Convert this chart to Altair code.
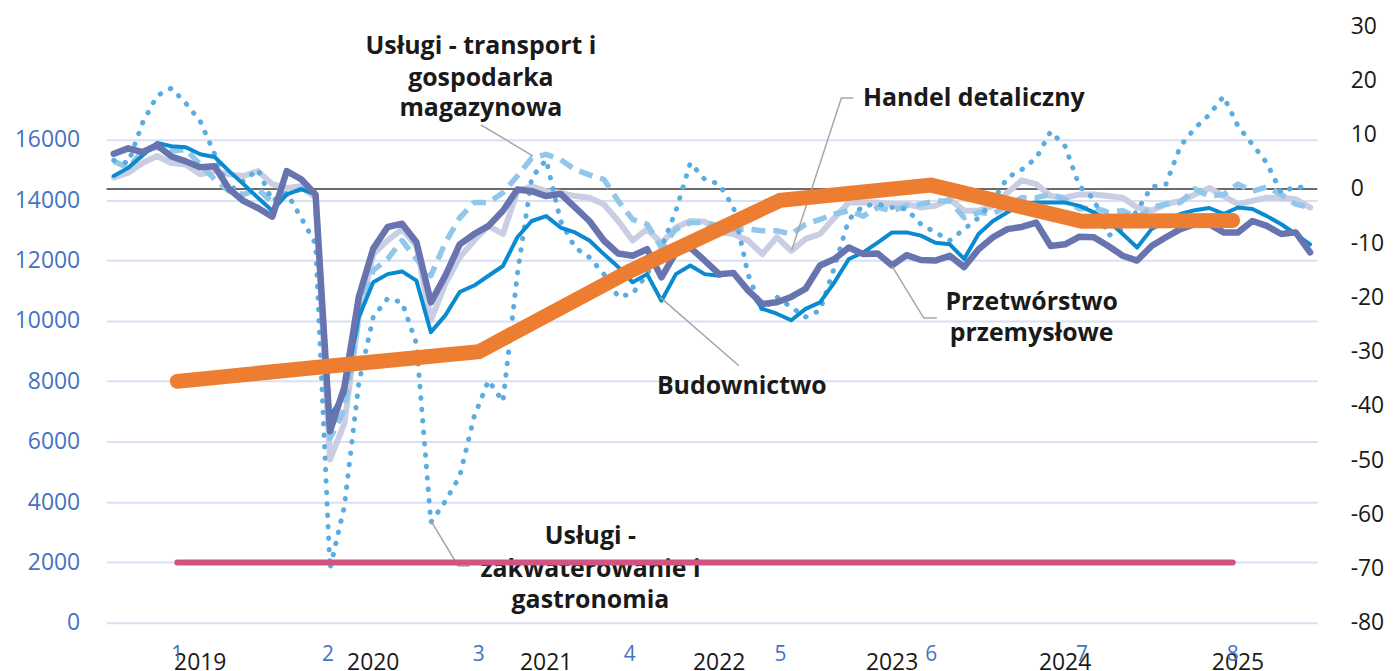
import altair as alt
import pandas as pd

# ---------------- data (right axis, monthly, 84 points) ----------------
przetworstwo = [6.5, 7.5, 6.8, 8.1, 6.0, 5.1, 4.0, 4.2, 0.0, -2.2, -3.5, -5.1, 3.3, 1.8,
                -1.0, -44.7, -36.5, -19.9, -11.0, -7.0, -6.4, -9.8, -20.9, -16.0, -10.2, -8.3, -6.8, -4.0, -0.1,
                -0.4, -1.3, -0.9, -3.4, -5.9, -9.5, -11.9, -12.3, -11.1, -16.3, -11.7, -10.8, -13.2,
                -15.7, -15.5, -18.7, -21.2, -20.9, -19.9, -18.4, -14.1, -12.9, -10.8, -12.0, -11.9, -14.1, -12.2,
                -13.1, -13.2, -12.3, -14.4, -11.1, -8.9, -7.4, -7.0, -6.2, -10.5, -10.2, -8.8, -8.9,
                -10.5, -12.3, -13.2, -10.5, -8.9, -7.4, -6.5, -6.5, -8.0, -8.0, -5.9, -6.8, -8.3, -8.0, -11.7]
budownictwo = [2.4, 3.9, 6.2, 8.5, 7.9, 7.7, 6.4, 5.9, 3.3, 0.9, -1.6, -4.0, -1.0, 0.0,
               -1.0, -42.0, -37.7, -23.6, -17.2, -15.7, -15.2, -16.9, -26.4, -23.3, -19.0, -17.8, -16.0, -14.2, -8.9,
               -5.9, -5.0, -7.1, -8.0, -9.5, -12.0, -14.4, -17.2, -15.7, -20.6, -15.7, -14.1, -15.7,
               -16.0, -15.4, -18.4, -22.1, -23.0, -24.2, -22.1, -20.9, -17.2, -12.9, -11.7, -9.9, -8.0, -8.0,
               -8.6, -9.9, -10.2, -12.9, -8.3, -5.9, -4.3, -2.8, -2.5, -2.5, -2.5, -3.1, -4.3,
               -5.9, -8.3, -10.8, -7.4, -5.9, -4.6, -3.9, -3.5, -4.6, -3.4, -3.7, -5.0, -6.5, -8.3, -10.2]
handel = [2.1, 3.0, 4.8, 6.1, 4.8, 4.5, 2.7, 3.3, 2.7, 2.4, 3.3, 0.9, 0.2, 0.5,
          -1.6, -49.9, -43.2, -23.6, -12.0, -9.5, -7.4, -10.5, -24.2, -17.5, -12.6, -9.5, -6.8, -8.3, -0.4,
          0.5, -0.4, -0.7, -1.3, -1.6, -2.8, -5.9, -9.5, -7.4, -10.0, -7.1, -5.9, -6.0,
          -8.0, -8.3, -9.5, -12.0, -8.9, -11.4, -9.2, -8.3, -5.3, -2.5, -2.5, -2.5, -2.8, -2.8,
          -3.4, -3.1, -1.9, -4.0, -4.0, -3.1, -0.7, 1.6, 0.9, -1.3, -1.6, -1.0, -1.0,
          -1.3, -1.6, -3.4, -4.0, -2.8, -2.2, -1.0, 0.2, -1.3, -2.8, -2.2, -1.6, -1.6, -1.9, -3.4]
transport = [5.1, 3.9, 7.0, 7.7, 7.0, 7.3, 4.5, 1.8, -0.4, -1.0, 0.0, -2.5, -1.0, 0.0,
             -0.4, -46.0, -40.7, -23.6, -15.0, -12.9, -9.5, -12.9, -16.0, -9.9, -5.3, -2.5, -2.5, -0.7, 2.4,
             5.7, 6.4, 5.4, 3.6, 2.6, 1.8, -2.2, -5.6, -6.5, -10.8, -7.4, -6.2, -6.2,
             -6.8, -7.4, -7.4, -7.7, -7.7, -8.3, -6.5, -5.6, -4.6, -4.0, -5.0, -3.4, -4.0, -3.1,
             -2.8, -2.2, -2.2, -5.3, -4.3, -4.6, -3.1, -1.6, -1.6, -1.0, -1.9, -3.7, -3.4,
             -4.3, -4.0, -5.3, -3.4, -2.8, -2.5, 0.0, -1.3, -1.0, 0.9, -0.4, 0.4, -1.0, -2.8, -3.4]
zakwaterowanie = [5.3, 4.8, 12.2, 17.2, 18.6, 15.8, 12.5, 6.4, -0.4, 1.5, 3.6, -2.2, -0.7, -5.3,
                  -10.1, -70.1, -58.5, -35.8, -23.6, -20.2, -20.9, -28.5, -61.5, -57.6, -53.0, -42.0, -35.3, -39.2, -15.7,
                  2.1, 5.4, -5.9, -10.8, -12.6, -15.7, -19.9, -19.3, -15.7, -10.8, -4.0, 4.8, 1.8,
                  0.9, -3.4, -15.7, -22.4, -19.9, -21.8, -23.6, -22.4, -14.4, -5.6, -3.1, -2.8, -3.4, -3.7,
                  -6.5, -8.0, -9.5, -7.4, -5.3, -2.2, 2.1, 3.6, 5.7, 10.6, 7.9, 0.5, -1.8,
                  -8.6, -7.4, -4.0, 0.4, 0.9, 7.9, 11.2, 13.7, 17.1, 11.6, 8.2, 4.8, -0.7, 0.5, 0.0]

# ---------------- data (left axis, 8 categories) ----------------
categories = [1, 2, 3, 4, 5, 6, 7, 8]
orange_vals = [8000, 8500, 8980, 11650, 14000, 14500, 13300, 13330]
pink_vals = [2000, 2000, 2000, 2000, 2000, 2000, 2000, 2000]

years = [2019, 2020, 2021, 2022, 2023, 2024, 2025]
left_ticks = [0, 2000, 4000, 6000, 8000, 10000, 12000, 14000, 16000]
right_ticks = [-80, -70, -60, -50, -40, -30, -20, -10, 0, 10, 20, 30]

# annotation labels (text, month position, right-axis value)
ann_text = ["Usługi - transport i", "gospodarka", "magazynowa", "Handel detaliczny",
            "Przetwórstwo", "przemysłowe", "Budownictwo",
            "Usługi -", "zakwaterowanie i", "gastronomia"]
ann_m = [25.47, 25.47, 25.47, 59.67, 63.68, 63.68, 43.57, 33.07, 33.07, 33.07]
ann_v = [26.33, 20.45, 14.94, 16.78, -20.87, -26.56, -36.29, -64.02, -70.08, -75.77]

# leader lines (id, order, month, value)
lead_id = [1, 1, 2, 2, 2, 3, 3, 3, 4, 4, 5, 5, 5]
lead_ord = [0, 1, 0, 1, 2, 0, 1, 2, 0, 1, 0, 1, 2]
lead_m = [25.47, 29.07, 47.03, 50.48, 51.31, 54.0, 56.2, 57.1, 37.9, 43.37, 22.02, 23.89, 24.7]
lead_v = [11.82, 6.13, -11.32, 16.78, 16.78, -14.26, -23.8, -23.8, -19.95, -32.6, -61.27, -69.53, -69.53]

# ---------------- frames ----------------
df = pd.DataFrame({
    "month": list(range(len(przetworstwo))),
    "prz": przetworstwo, "bud": budownictwo, "han": handel,
    "tra": transport, "zak": zakwaterowanie,
})
df_cat = pd.DataFrame({"k": categories, "orange": orange_vals, "pink": pink_vals})
df_year = pd.DataFrame({"year": [str(y) for y in years],
                        "pos": [12 * i + 6 for i in range(len(years))]})
df_ann = pd.DataFrame({"t": ann_text, "m": ann_m, "v": ann_v})
df_lead = pd.DataFrame({"id": lead_id, "o": lead_ord, "m": lead_m, "v": lead_v})
df_zero = pd.DataFrame({"v": [0]})

FONT = "Open Sans"
xm = alt.Scale(domain=[-0.5, 83.5], nice=False, zero=False)
yr = alt.Scale(domain=[-80, 30], nice=False, zero=False)
yl = alt.Scale(domain=[0, 19760], nice=False, zero=False)
xk = alt.Scale(domain=[0.531, 8.561], nice=False, zero=False)

right_axis = alt.Axis(orient="right", values=right_ticks, grid=False, domain=False, ticks=False,
                      labelFont=FONT, labelFontSize=23, labelColor="#1a1a1a", labelPadding=33,
                      labelExpr="'' + datum.value", title=None)
left_axis = alt.Axis(orient="left", values=left_ticks, grid=True, gridColor="#D9E0F2", gridWidth=2,
                     domain=False, ticks=False, labelFont=FONT, labelFontSize=23,
                     labelColor="#4472C4", labelPadding=27, format="d", title=None)

# left-axis layer (drawn first so that its grid sits underneath)
grid_base = alt.Chart(df_cat).mark_line(opacity=0).encode(
    x=alt.X("k:Q", scale=xk, axis=None),
    y=alt.Y("pink:Q", scale=yl, axis=left_axis))

zero_rule = alt.Chart(df_zero).mark_rule(color="#3a3a3a", strokeWidth=1.5).encode(
    x=alt.value(0), x2=alt.value(1216),
    y=alt.Y("v:Q", scale=yr, axis=right_axis))


def series(col, color, width, dash=None, cap="round"):
    kw = dict(color=color, strokeWidth=width, strokeCap=cap, strokeJoin="round")
    if dash is not None:
        kw["strokeDash"] = dash
    return alt.Chart(df).mark_line(**kw).encode(
        x=alt.X("month:Q", scale=xm, axis=None),
        y=alt.Y(f"{col}:Q", scale=yr, axis=None))


l_han = series("han", "#CACEE3", 6)
l_tra = series("tra", "#90C7EA", 5.5, dash=[14, 8], cap="butt")
l_zak = series("zak", "#5BADE1", 5, dash=[0.5, 11])
l_bud = series("bud", "#0A8AD0", 4)
l_prz = series("prz", "#6874AF", 6.5)

leaders = alt.Chart(df_lead).mark_line(color="#A6A6A6", strokeWidth=1.5).encode(
    x=alt.X("m:Q", scale=xm, axis=None),
    y=alt.Y("v:Q", scale=yr, axis=None),
    detail="id:N", order="o:Q")

texts = alt.Chart(df_ann).mark_text(font=FONT, fontSize=25, fontWeight="bold", color="#1a1a1a",
                                    align="center", baseline="middle").encode(
    x=alt.X("m:Q", scale=xm, axis=None),
    y=alt.Y("v:Q", scale=yr, axis=None),
    text="t:N")

year_labels = alt.Chart(df_year).mark_text(font=FONT, fontSize=23, color="#1a1a1a",
                                           align="center", baseline="middle").encode(
    x=alt.X("pos:Q", scale=xm, axis=None),
    y=alt.value(639),
    text="year:N")

pink = alt.Chart(df_cat).mark_line(color="#CF5482", strokeWidth=6, strokeCap="round").encode(
    x=alt.X("k:Q", scale=xk, axis=None),
    y=alt.Y("pink:Q", scale=yl, axis=None))
orange = alt.Chart(df_cat).mark_line(color="#ED7D31", strokeWidth=15, strokeCap="round",
                                     strokeJoin="miter").encode(
    x=alt.X("k:Q", scale=xk, axis=None),
    y=alt.Y("orange:Q", scale=yl, axis=None))
cat_labels = alt.Chart(df_cat).mark_text(font=FONT, fontSize=21, color="#4472C4",
                                         align="center", baseline="middle").encode(
    x=alt.X("k:Q", scale=xk, axis=None),
    y=alt.value(631),
    text="k:N")

chart = alt.layer(
    grid_base, zero_rule, l_han, l_tra, l_zak, l_bud, l_prz, leaders, texts, year_labels,
    pink, orange, cat_labels,
).resolve_scale(y="independent", x="independent").properties(
    width=1216, height=599,
    padding={"left": 99, "top": 17, "right": 68, "bottom": 46},
    autosize=alt.AutoSizeParams(type="none"),
).configure(background="white").configure_view(stroke=None)

chart.save("out.html", embed_options={"renderer": "svg", "actions": False})
